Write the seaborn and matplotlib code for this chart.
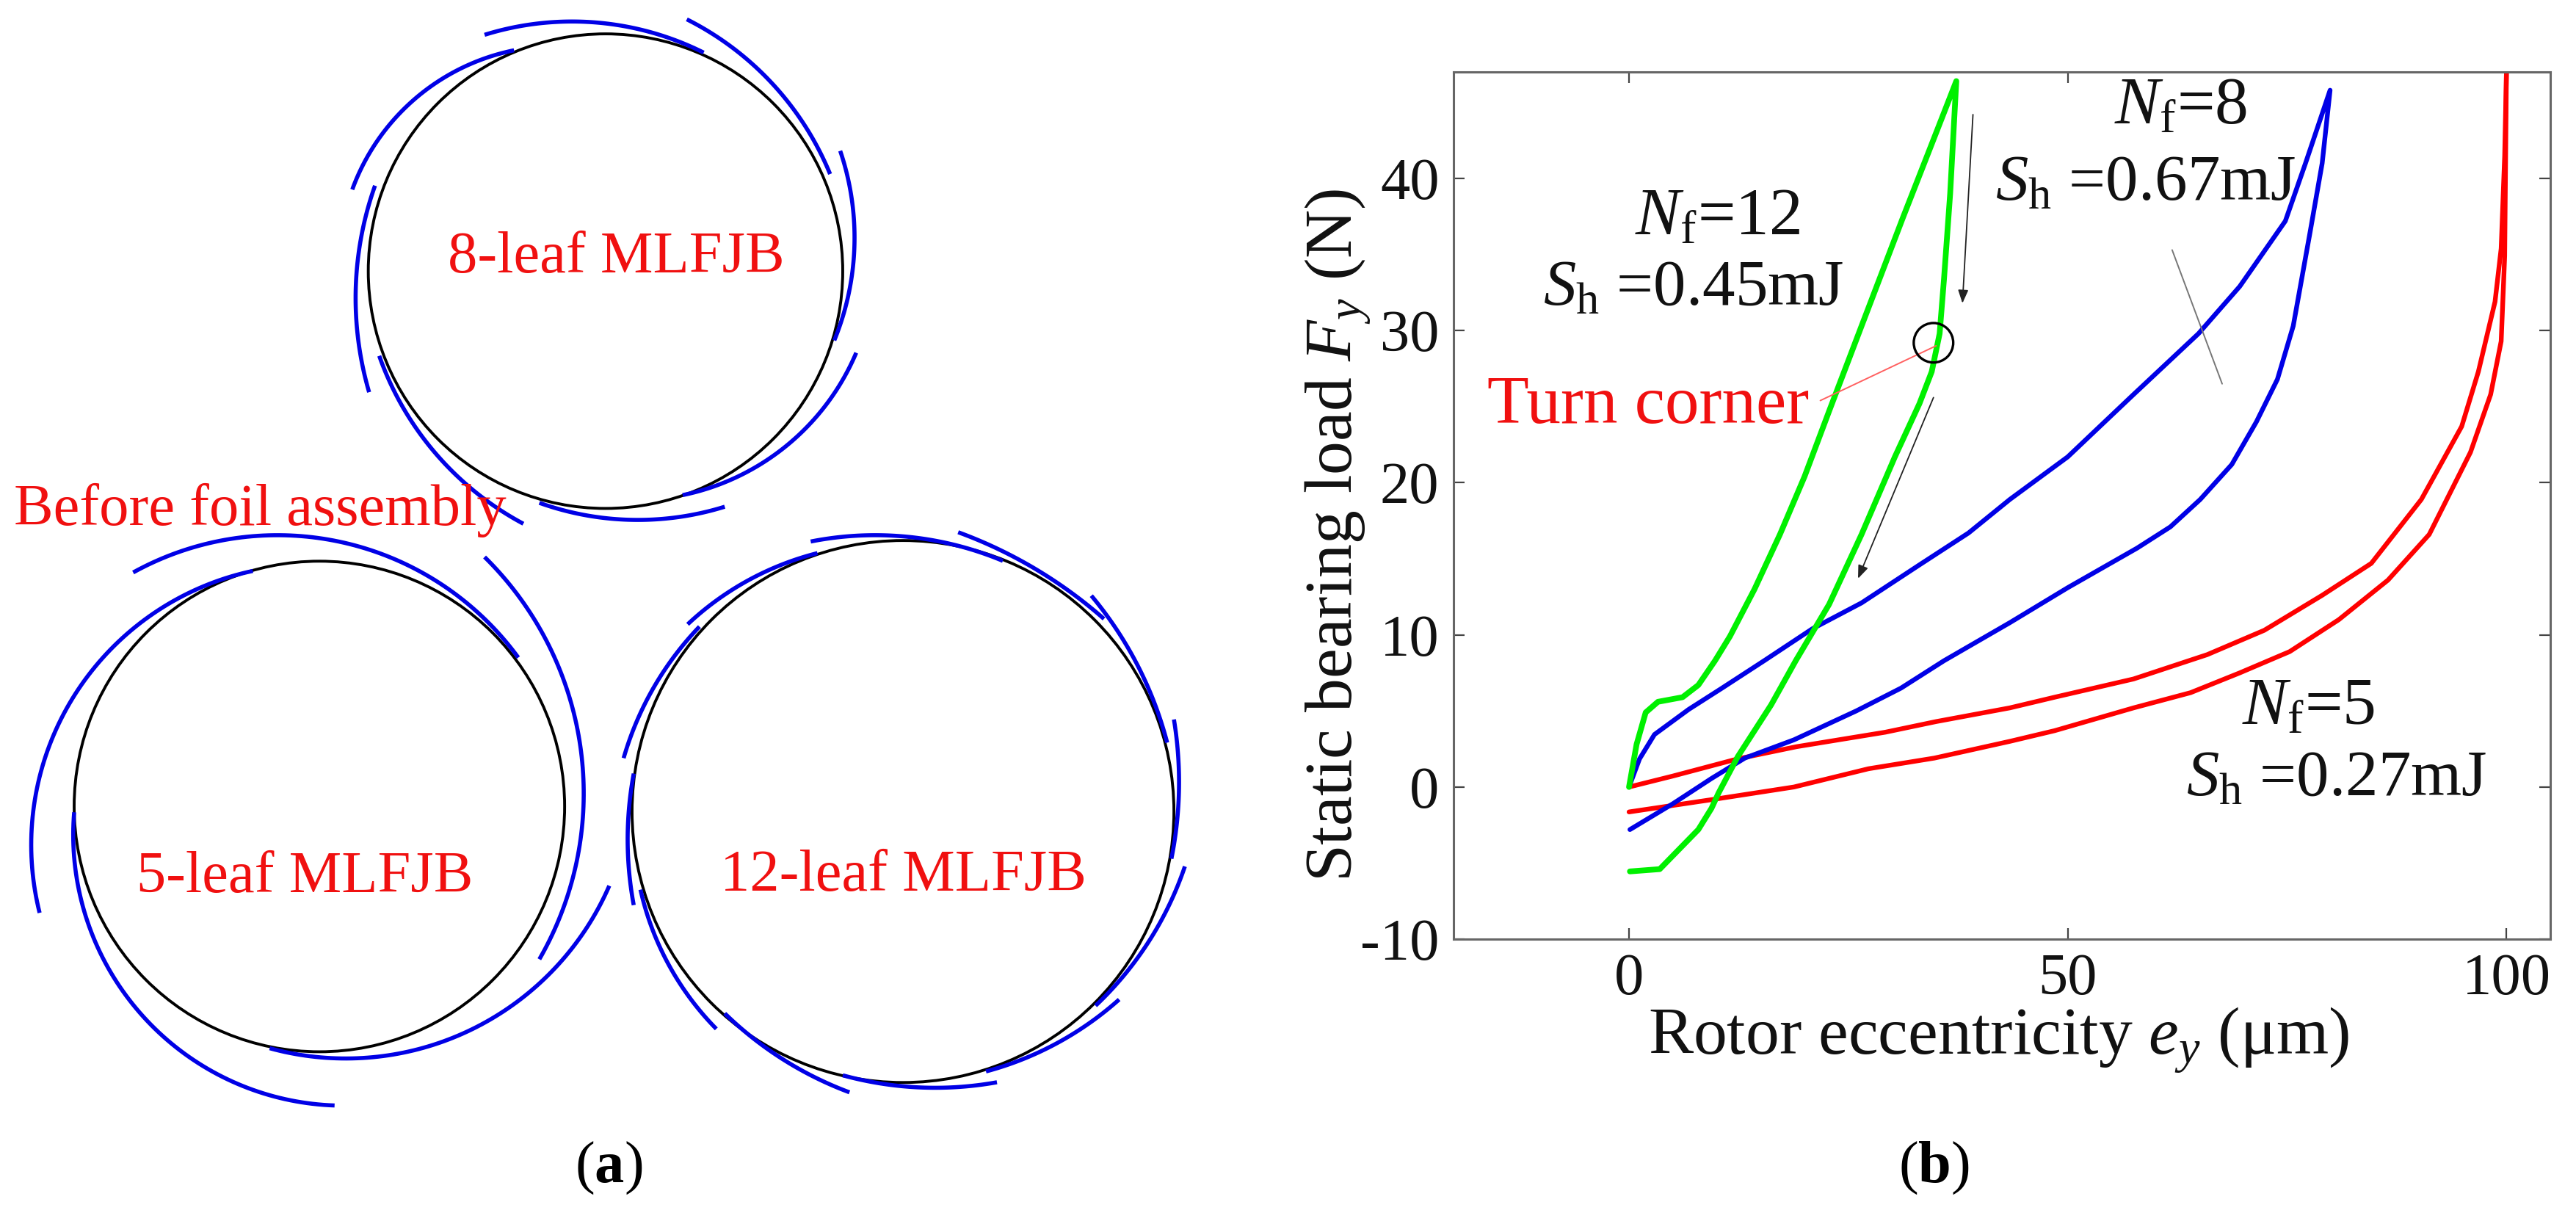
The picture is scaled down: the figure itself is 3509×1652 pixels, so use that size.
import numpy as np
import matplotlib
matplotlib.use('Agg')
import matplotlib.pyplot as plt
import seaborn as sns

# panel (b) curves
green_x = [0, 0.86, 1.9, 3.3, 6.1, 7.9, 9.8, 11.5, 14.3, 17.2, 20, 22.8, 26.5, 31.2, 35, 37.3,
           36.6, 35.9, 35.4, 34.5, 33.1, 30.3, 26.5, 22.8, 19, 16.2, 12.4, 10.2, 9.4, 7.9, 5.7, 3.5, 0.1]
green_y = [0, 2.8, 4.9, 5.6, 5.9, 6.7, 8.3, 9.9, 13.0, 16.6, 20.4, 24.7, 30.3, 37.4, 43, 46.4,
           39, 33.4, 29.8, 27.3, 25.2, 21.7, 16.6, 12, 8.3, 5.4, 2, -0.4, -1.4, -2.8, -4.1, -5.4, -5.55]
blue_x = [0, 1.2, 2.9, 6.8, 10.6, 15.4, 20.9, 26.5, 33.1, 38.7, 43.4, 50, 57.5, 64.9, 69.6, 74.8, 77.1, 79.9,
          79, 77.6, 75.7, 73.9, 71.5, 68.7, 65.1, 61.7, 57.9, 50, 43.4, 35.9, 31, 25.9, 18.8, 13.2, 9.4, 5, 0.1]
blue_y = [0, 1.85, 3.45, 5.1, 6.5, 8.3, 10.4, 12.1, 14.6, 16.7, 18.9, 21.7, 25.8, 29.8, 32.9, 37.2, 41, 45.8,
          41, 36.4, 30.3, 26.8, 24, 21.2, 18.9, 17.1, 15.7, 13.1, 10.8, 8.3, 6.5, 5, 3.1, 1.9, 0.56, -1.1, -2.8]
red_up_x = [0, 5, 12.4, 19.1, 29.2, 35, 43.4, 48.5, 57.5, 65.9, 72.4, 79, 84.6, 90.3, 94.9, 96.8, 98.7, 99.4, 99.8, 100]
red_up_y = [0, 0.72, 1.85, 2.65, 3.6, 4.3, 5.2, 5.9, 7.1, 8.7, 10.3, 12.6, 14.7, 18.9, 23.7, 27.3, 31.9, 35.4, 41.5, 47]
red_low_x = [0, 9.8, 18.8, 27.3, 34.8, 43.4, 48.5, 57.5, 64, 69.6, 75.3, 80.9, 86.5, 91.2, 95.9, 98.2, 99.4, 99.8, 100]
red_low_y = [-1.64, -0.8, 0, 1.2, 1.9, 3, 3.7, 5.2, 6.2, 7.5, 8.9, 11, 13.6, 16.6, 22, 25.8, 29.3, 34.9, 47]
x_ticks = [0, 50, 100]
y_ticks = [-10, 0, 10, 20, 30, 40]

# panel (a), rotor circles: left, right, top, bottom as read on the zoomed crop
circle_8 = [437, 1000, 43, 658]
circle_5 = [88, 670, 725, 1360]
circle_12 = [750, 1393, 700, 1398]

# foils: start, middle, end point, read on the same crop
foils_8 = [[(575, 45), (690, 28), (835, 68)], [(815, 25), (900, 90), (985, 225)],
           [(997, 195), (1014, 310), (990, 440)], [(1016, 456), (940, 570), (810, 640)],
           [(860, 655), (750, 672), (640, 650)], [(621, 677), (520, 590), (450, 460)],
           [(438, 507), (422, 380), (445, 240)], [(418, 245), (490, 130), (610, 65)]]
foils_5 = [[(158, 740), (340, 692), (615, 850)], [(575, 720), (688, 960), (640, 1240)],
           [(723, 1145), (570, 1325), (320, 1355)], [(397, 1429), (175, 1320), (88, 1050)],
           [(47, 1180), (100, 880), (300, 738)]]
foils_12 = [[(962, 700), (1050, 692), (1190, 725)], [(1137, 688), (1220, 730), (1310, 800)],
            [(1295, 770), (1345, 850), (1385, 960)], [(1393, 930), (1399, 1020), (1390, 1110)],
            [(1406, 1120), (1370, 1205), (1300, 1300)], [(1328, 1292), (1260, 1345), (1170, 1385)],
            [(1183, 1399), (1100, 1406), (1000, 1390)], [(1008, 1412), (930, 1370), (860, 1310)],
            [(850, 1330), (795, 1250), (760, 1150)], [(752, 1170), (745, 1070), (752, 1000)],
            [(740, 980), (775, 890), (830, 810)], [(816, 807), (880, 755), (970, 715)]]

W, H = 3509, 1652
SX, SY = 1568 / 1800, 1568 / 1652  # crop units per image pixel

sns.set_theme(style='white')
plt.rcParams['font.family'] = ['Liberation Serif', 'DejaVu Serif']
plt.rcParams['mathtext.fontset'] = 'custom'
plt.rcParams['mathtext.rm'] = 'Liberation Serif'
plt.rcParams['mathtext.it'] = 'Liberation Serif:italic'
plt.rcParams['mathtext.bf'] = 'Liberation Serif:bold'
plt.rcParams['axes.unicode_minus'] = False

fig = plt.figure(figsize=(W / 100, H / 100), dpi=100)


def draw_curve(ax, x, y, color, lw):
    sns.lineplot(x=x, y=y, sort=False, estimator=None, color=color, linewidth=lw, ax=ax)


def arc_points(p1, p2, p3):
    pts = [(p[0] / SX, p[1] / SY) for p in (p1, p2, p3)]
    (x1, y1), (x2, y2), (x3, y3) = pts
    d = 2 * (x1 * (y2 - y3) + x2 * (y3 - y1) + x3 * (y1 - y2))
    ux = ((x1**2 + y1**2) * (y2 - y3) + (x2**2 + y2**2) * (y3 - y1) + (x3**2 + y3**2) * (y1 - y2)) / d
    uy = ((x1**2 + y1**2) * (x3 - x2) + (x2**2 + y2**2) * (x1 - x3) + (x3**2 + y3**2) * (x2 - x1)) / d
    r = np.hypot(x1 - ux, y1 - uy)
    a1 = np.arctan2(y1 - uy, x1 - ux)
    a2 = np.arctan2(y2 - uy, x2 - ux)
    a3 = np.arctan2(y3 - uy, x3 - ux)
    # go the way that passes through the middle point
    d12 = (a2 - a1 + np.pi) % (2 * np.pi) - np.pi
    d23 = (a3 - a2 + np.pi) % (2 * np.pi) - np.pi
    t = np.linspace(a1, a1 + d12 + d23, 80)
    return ux + r * np.cos(t), uy + r * np.sin(t)


# panel (a)
ax_a = fig.add_axes([0, 0, 1800 / W, 1])
ax_a.set_xlim(0, 1800)
ax_a.set_ylim(1652, 0)
ax_a.axis('off')

for foils in (foils_8, foils_5, foils_12):
    for f in foils:
        fx, fy = arc_points(*f)
        ax_a.plot(fx, fy, color='#0000e6', lw=4, solid_capstyle='butt')

for c in (circle_8, circle_5, circle_12):
    cx = (c[0] + c[1]) / 2 / SX
    cy = (c[2] + c[3]) / 2 / SY
    r = (c[1] - c[0]) / 2 / SX
    ax_a.add_patch(plt.Circle((cx, cy), r, fill=False, ec='black', lw=2.8))

red_size = 58
ax_a.text(354, 695, 'Before foil assembly', color='#f01010', fontsize=red_size, ha='center', va='center')
ax_a.text(839, 351, '8-leaf MLFJB', color='#f01010', fontsize=red_size, ha='center', va='center')
ax_a.text(415, 1196, '5-leaf MLFJB', color='#f01010', fontsize=red_size, ha='center', va='center')
ax_a.text(1230, 1194, '12-leaf MLFJB', color='#f01010', fontsize=red_size, ha='center', va='center')
ax_a.text(829, 1591, r'($\mathbf{a}$)', color='black', fontsize=58, ha='center', va='center')

# panel (b)
ax_b = fig.add_axes([1980 / W, 1 - 1279 / H, (3474 - 1980) / W, (1279 - 98) / H])
draw_curve(ax_b, red_up_x, red_up_y, '#ff0000', 4.6)
draw_curve(ax_b, red_low_x, red_low_y, '#ff0000', 4.6)
draw_curve(ax_b, blue_x, blue_y, '#0000e6', 4.6)
draw_curve(ax_b, green_x, green_y, '#00f000', 5.6)

ax_b.set_xlim(-20, 105)
ax_b.set_ylim(-10, 47)
ax_b.set_xticks(x_ticks)
ax_b.set_yticks(y_ticks)
ax_b.tick_params(direction='in', length=11, width=1.6, color='#444444', top=True, right=True,
                 bottom=True, left=True, labelsize=58, labelcolor='#111111', pad=14)
for s in ax_b.spines.values():
    s.set_visible(True)
    s.set_color('#666666')
    s.set_linewidth(2.2)

fig.text(1823 / W, 1 - 729 / H, r'Static bearing load $F_y$ (N)', rotation=90, fontsize=66,
         color='#111111', ha='center', va='center')
fig.text(2723 / W, 1 - 1417 / H, r'Rotor eccentricity $e_y$ (μm)', fontsize=66,
         color='#111111', ha='center', va='center')
fig.text(2634 / W, 1 - 1591 / H, r'($\mathbf{b}$)', color='black', fontsize=58, ha='center', va='center')

ax_b.text(62.9, 44.7, r'$N_{\mathrm{f}}$=8', fontsize=66, ha='center', va='center', color='#111111')
ax_b.text(58.9, 39.6, r'$S_{\mathrm{h}}$ =0.67mJ', fontsize=64, ha='center', va='center', color='#111111')
ax_b.text(10.1, 37.4, r'$N_{\mathrm{f}}$=12', fontsize=66, ha='center', va='center', color='#111111')
ax_b.text(7.3, 32.7, r'$S_{\mathrm{h}}$ =0.45mJ', fontsize=64, ha='center', va='center', color='#111111')
ax_b.text(77.4, 5.2, r'$N_{\mathrm{f}}$=5', fontsize=66, ha='center', va='center', color='#111111')
ax_b.text(80.6, 0.46, r'$S_{\mathrm{h}}$ =0.27mJ', fontsize=64, ha='center', va='center', color='#111111')
ax_b.text(2.2, 25, 'Turn corner', fontsize=67, color='#f01010', ha='center', va='center')

ax_b.plot([21.8, 35], [25.4, 29], color='#ff6060', lw=1.4)
ax_b.plot([61.9, 67.6], [35.3, 26.5], color='#777777', lw=1.4)
ax_b.scatter([34.7], [29.2], s=1500, facecolors='none', edgecolors='black', linewidths=2.4, zorder=5)

arrow = dict(arrowstyle='-|>,head_length=0.9,head_width=0.35', color='#222222', lw=1.3, shrinkA=0, shrinkB=0)
ax_b.annotate('', xy=(38, 31.8), xytext=(39.2, 44.2), arrowprops=arrow)
ax_b.annotate('', xy=(26.1, 13.7), xytext=(34.7, 25.6), arrowprops=arrow)

fig.savefig('out.png', dpi=100, facecolor='white')
